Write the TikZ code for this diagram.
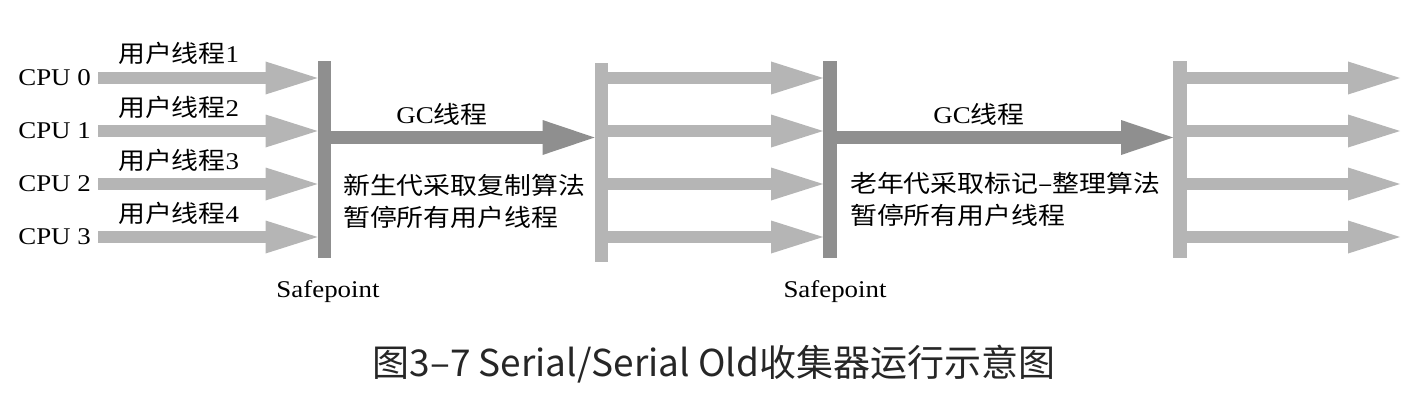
\documentclass[tikz,border=0pt]{standalone}
\usepackage{fontspec}
\setmainfont{Liberation Serif}
\newfontfamily\cjk{Noto Sans CJK SC}
\usepackage{tikz}
\usetikzlibrary{arrows.meta,positioning}
\definecolor{thrgray}{RGB}{181,181,181}
\definecolor{gcgray}{RGB}{143,143,143}

\begin{document}
\begin{tikzpicture}[x=1pt, y=-1pt,
  lbl/.style={font=\fontsize{24}{32}\selectfont, inner sep=0pt, xscale=1.12},
  note/.style={font=\cjk\fontsize{24}{32}\selectfont, inner sep=0pt, xscale=1.12, align=left, anchor=west},
  bar/.style={rectangle, inner sep=0pt, minimum width=13.5pt, minimum height=197pt},
  thr/.style={thrgray, line width=12.5pt, -{Triangle[length=52pt,width=33pt,line width=0pt]}},
  gcarrow/.style={gcgray, line width=13pt, -{Triangle[length=52pt,width=35pt,line width=0pt]}}]
\useasboundingbox (0,0) rectangle (1418,404);
% safepoints and the bars where the threads go on
\node[bar, fill=gcgray] (sp1) at (324.5,159.5) {};
\node[bar, fill=thrgray, minimum height=199pt] (res1) at (601.5,162.5) {};
\node[bar, fill=gcgray] (sp2) at (830,159.5) {};
\node[bar, fill=thrgray] (res2) at (1180,159.5) {};
\coordinate (gcrow) at (0,137.5);
% cpus
\node[lbl, anchor=east] (cpu0) at (91,78) {CPU 0};
\node[lbl, anchor=east] (cpu1) at (91,131) {CPU 1};
\node[lbl, anchor=east] (cpu2) at (91,184) {CPU 2};
\node[lbl, anchor=east] (cpu3) at (91,237) {CPU 3};
\node[lbl, anchor=base west] (ut1) at (118,63) {{\cjk 用户线程}1};
\node[lbl, anchor=base west] (ut2) at (118,116) {{\cjk 用户线程}2};
\node[lbl, anchor=base west] (ut3) at (118,169) {{\cjk 用户线程}3};
\node[lbl, anchor=base west] (ut4) at (118,222) {{\cjk 用户线程}4};
% user threads
\draw[thr] ([xshift=7pt]cpu0.east) -- (cpu0 -| sp1.west);
\draw[thr] ([xshift=7pt]cpu1.east) -- (cpu1 -| sp1.west);
\draw[thr] ([xshift=7pt]cpu2.east) -- (cpu2 -| sp1.west);
\draw[thr] ([xshift=7pt]cpu3.east) -- (cpu3 -| sp1.west);
\draw[thr] (cpu0 -| res1.east) -- (cpu0 -| sp2.west);
\draw[thr] (cpu1 -| res1.east) -- (cpu1 -| sp2.west);
\draw[thr] (cpu2 -| res1.east) -- (cpu2 -| sp2.west);
\draw[thr] (cpu3 -| res1.east) -- (cpu3 -| sp2.west);
\draw[thr] (cpu0 -| res2.east) -- (cpu0 -| 1400,0);
\draw[thr] (cpu1 -| res2.east) -- (cpu1 -| 1400,0);
\draw[thr] (cpu2 -| res2.east) -- (cpu2 -| 1400,0);
\draw[thr] (cpu3 -| res2.east) -- (cpu3 -| 1400,0);
% gc threads
\draw[gcarrow] (sp1.east |- gcrow) -- (res1.west |- gcrow);
\draw[gcarrow] (sp2.east |- gcrow) -- (res2.west |- gcrow);
\node[lbl, anchor=base] (gc1) at (442,123) {GC{\cjk 线程}};
\node[lbl, anchor=base] (gc2) at (979,123) {GC{\cjk 线程}};
\node[note] (note1) at (343,201) {新生代采取复制算法\\暂停所有用户线程};
\node[note] (note2) at (850,199) {老年代采取标记–整理算法\\暂停所有用户线程};
\node[lbl, anchor=base] (safe1) at (328,297) {Safepoint};
\node[lbl, anchor=base] (safe2) at (835,297) {Safepoint};
\node[font=\cjk\fontsize{37}{44}\selectfont, inner sep=0pt, anchor=base, text=black!85] (cap) at (714,376) {图3–7 Serial/Serial Old收集器运行示意图};
\end{tikzpicture}
\end{document}
